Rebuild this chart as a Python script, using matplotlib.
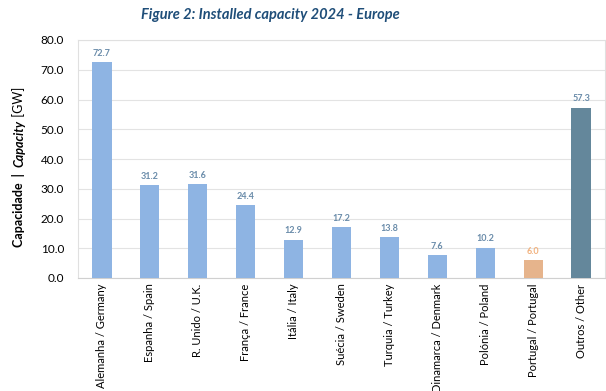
import matplotlib
matplotlib.use("Agg")
import matplotlib.pyplot as plt

categories = ["Alemanha / Germany", "Espanha / Spain", "R. Unido / U.K.", "França / France",
              "Itália / Italy", "Suécia / Sweden", "Turquia / Turkey", "Dinamarca / Denmark",
              "Polónia / Poland", "Portugal / Portugal", "Outros / Other"]
values = [72.7, 31.2, 31.6, 24.4, 12.9, 17.2, 13.8, 7.6, 10.2, 6.0, 57.3]
yticks = [0, 10, 20, 30, 40, 50, 60, 70, 80]

bar_colors = ["#8EB4E3"] * 9 + ["#E6B48C", "#64879B"]
label_colors = ["#6A8CAA"] * 9 + ["#F2B27E", "#6A8CAA"]

plt.rcParams['font.family'] = ['Lato', 'DejaVu Sans']

fig = plt.figure(figsize=(6.06, 3.91), dpi=100)
ax = fig.add_axes([78/606, 1 - 278/391, 527/606, 238/391])

x = list(range(len(categories)))
bars = ax.bar(x, values, width=0.4, color=bar_colors, zorder=3)
for xi, v, c in zip(x, values, label_colors):
    ax.annotate(f"{v:.1f}", (xi, v), xytext=(0, 3), textcoords="offset points",
                ha="center", va="bottom", fontsize=6.5, fontweight="bold", color=c)

ax.set_xlim(-0.5, len(categories) - 0.5)
ax.set_ylim(0, 80)
ax.set_yticks(yticks)
ax.set_yticklabels([f"{t:.1f}" for t in yticks], fontsize=8.5)
ax.set_xticks(x)
ax.set_xticklabels(categories, rotation=90, fontsize=8)
ax.tick_params(axis="both", length=0, pad=4)
ax.tick_params(axis="y", pad=10)
ax.grid(axis="y", color="#E3E3E3", linewidth=0.8, zorder=0)
for s in ax.spines.values():
    s.set_color("#E0E0E0")
    s.set_linewidth(0.8)
ax.spines["bottom"].set_color("#D0D0D0")

fig.text(270/606, 1 - 15/391, "Figure 2: Installed capacity 2024 - Europe", ha="center", va="center",
         fontsize=10.5, fontweight="bold", fontstyle="italic", color="#1F4E79")

# composite y label
fig.canvas.draw()
r = fig.canvas.get_renderer()
parts = [("Capacidade  |  ", "bold", "normal"), ("Capacity", "bold", "italic"), (" [GW]", "normal", "normal")]
xpix = 19
ypix = 391 - 247
for txt, w, st in parts:
    t = fig.text(xpix / 606, ypix / 391, txt, rotation=90, ha="center", va="bottom",
                 fontsize=9, fontweight=w, fontstyle=st, color="#000000")
    bb = t.get_window_extent(r)
    ypix += bb.height

fig.savefig("out.png", dpi=100)
